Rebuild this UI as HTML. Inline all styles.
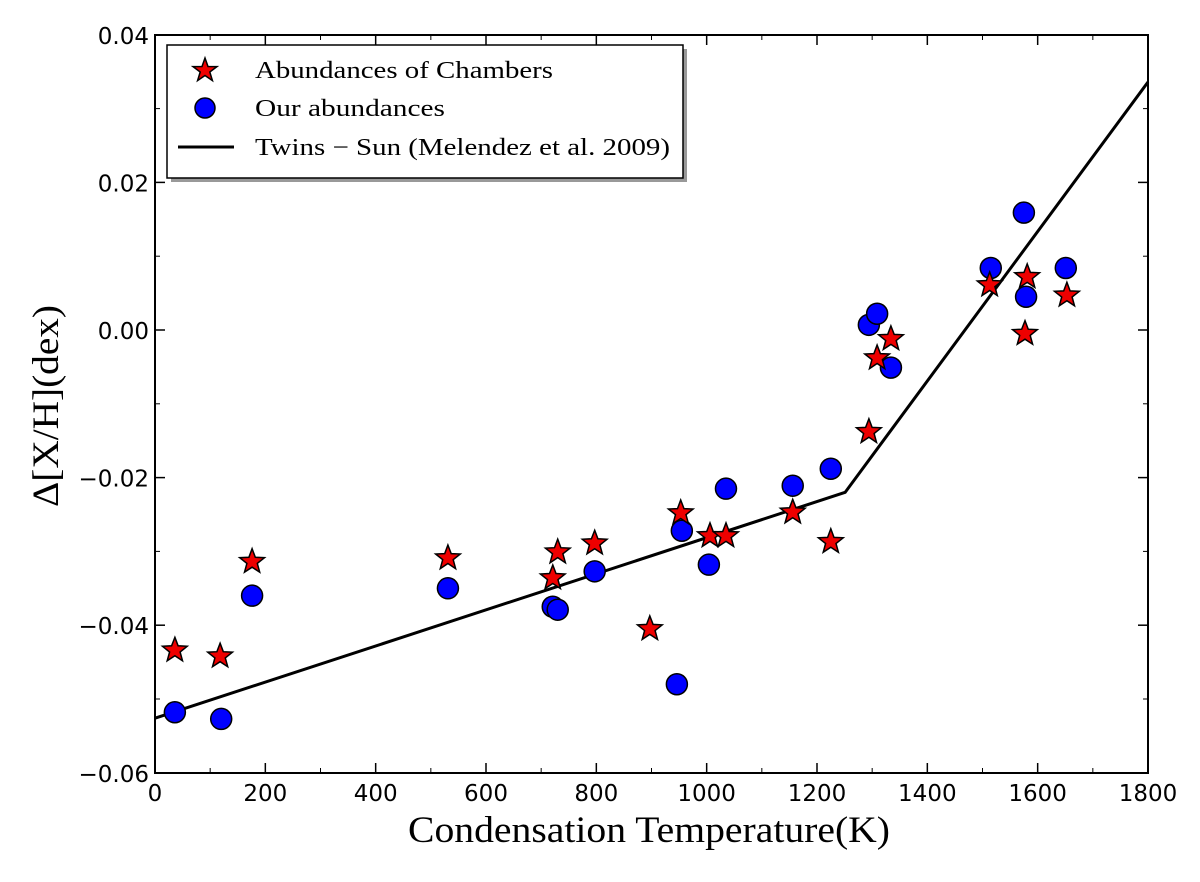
<!DOCTYPE html>
<html><head><meta charset="utf-8"><style>
body{margin:0;background:#fff;}
svg text{fill:#000;}
</style></head><body>
<svg id="chart" width="1200" height="877" xmlns="http://www.w3.org/2000/svg">
<g id="ticks"></g>
<g id="marks"></g>
<rect x="155" y="35" width="993" height="738" fill="none" stroke="#000" stroke-width="2"/>
<text x="408" y="842" font-family="Liberation Serif, serif" font-size="37" textLength="482" lengthAdjust="spacingAndGlyphs">Condensation Temperature(K)</text>
<text transform="translate(58,507) rotate(-90)" font-family="Liberation Serif, serif" font-size="37" textLength="202" lengthAdjust="spacingAndGlyphs">Δ[X/H](dex)</text>
<g>
<rect x="171" y="49" width="516" height="133" fill="#999"/>
<rect x="167" y="45" width="516" height="133" fill="#fff" stroke="#000" stroke-width="1.5"/>
<polygon points="205,58 208,66.5 217,66.6 209.8,72 212.4,80.6 205,75.5 197.6,80.6 200.2,72 193,66.6 202,66.5" fill="#e00" stroke="#000" stroke-width="1.5"/>
<text x="255" y="78" font-family="Liberation Serif, serif" font-size="24" textLength="298" lengthAdjust="spacingAndGlyphs">Abundances of Chambers</text>
<circle cx="205" cy="108" r="10" fill="#00f" stroke="#000" stroke-width="1.5"/>
<text x="255" y="116" font-family="Liberation Serif, serif" font-size="24" textLength="190" lengthAdjust="spacingAndGlyphs">Our abundances</text>
<line x1="178" y1="147" x2="234" y2="147" stroke="#000" stroke-width="3"/>
<text x="255" y="155" font-family="Liberation Serif, serif" font-size="24" textLength="415" lengthAdjust="spacingAndGlyphs">Twins − Sun (Melendez et al. 2009)</text>
</g>
</svg>
<script>
const starT=[36,118,176,531,721,730,797,897,953,1006,1035,1156,1225,1294,1309,1334,1513,1577,1581,1653];
const starV=[-0.0434,-0.0442,-0.0314,-0.0309,-0.0336,-0.0301,-0.0289,-0.0405,-0.0248,-0.0279,-0.0279,-0.0247,-0.0287,-0.0138,-0.0038,-0.0012,0.0061,-0.0005,0.0072,0.0047];
const circT=[36,120,176,531,721,730,797,946,955,1004,1035,1156,1225,1294,1309,1334,1515,1575,1579,1651];
const circV=[-0.0518,-0.0527,-0.0360,-0.0350,-0.0375,-0.0379,-0.0327,-0.0480,-0.0272,-0.0318,-0.0215,-0.0211,-0.0188,0.0007,0.0022,-0.0051,0.0084,0.0159,0.0045,0.0084];
const lineT=[0,1251,1800];
const lineV=[-0.0526,-0.0220,0.0336];
const xTicks=[0,200,400,600,800,1000,1200,1400,1600,1800];
const yTicks=[-0.06,-0.04,-0.02,0.00,0.02,0.04];
const yLabels=["−0.06","−0.04","−0.02","0.00","0.02","0.04"];
const NS='http://www.w3.org/2000/svg';
const X=t=>155+t*993/1800;
const Y=v=>330-v*7380;
const ticks=document.getElementById('ticks'),marks=document.getElementById('marks');
function mk(tag,p,parent){const e=document.createElementNS(NS,tag);for(const k in p)e.setAttribute(k,p[k]);parent.appendChild(e);return e;}
xTicks.forEach((t,i)=>{
 const x=X(t);
 const a=mk('line',{x1:x,y1:773,x2:x,y2:763,stroke:'#000','stroke-width':1.5},ticks);
 
 
 mk('line',{x1:x,y1:35,x2:x,y2:45,stroke:'#000','stroke-width':1.5},ticks);
 if(i<xTicks.length-1){const xm=X(t+100);
  mk('line',{x1:xm,y1:773,x2:xm,y2:768,stroke:'#000','stroke-width':1},ticks);
  mk('line',{x1:xm,y1:35,x2:xm,y2:40,stroke:'#000','stroke-width':1},ticks);}
 const tx=mk('text',{x:x,y:801,'font-family':'DejaVu Sans, sans-serif','font-size':23,'text-anchor':'middle'},ticks);
 tx.textContent=t;
 
 
});
yTicks.forEach((v,i)=>{
 const y=Y(v);
 mk('line',{x1:155,y1:y,x2:165,y2:y,stroke:'#000','stroke-width':1.5},ticks);
 mk('line',{x1:1148,y1:y,x2:1138,y2:y,stroke:'#000','stroke-width':1.5},ticks);
 if(i<yTicks.length-1){const ym=Y(v+0.01);
  mk('line',{x1:155,y1:ym,x2:160,y2:ym,stroke:'#000','stroke-width':1},ticks);
  mk('line',{x1:1148,y1:ym,x2:1143,y2:ym,stroke:'#000','stroke-width':1},ticks);}
 const tx=mk('text',{x:149,y:y+9,'font-family':'DejaVu Sans, sans-serif','font-size':23,'text-anchor':'end'},ticks);
 tx.textContent=yLabels[i];
 
 
});
const pl=mk('polyline',{points:lineT.map((t,i)=>X(t)+','+Y(lineV[i])).join(' '),fill:'none',stroke:'#000','stroke-width':3},marks);


circT.forEach((t,i)=>{
 const c=mk('circle',{cx:X(t),cy:Y(circV[i]),r:10.5,fill:'#00f',stroke:'#000','stroke-width':1.5},marks);
 
 
});
function starPts(cx,cy,R,r){let p=[];for(let k=0;k<10;k++){const a=-Math.PI/2+k*Math.PI/5;const rr=k%2?r:R;p.push((cx+rr*Math.cos(a)).toFixed(1)+','+(cy+rr*Math.sin(a)).toFixed(1));}return p.join(' ');}
starT.forEach((t,i)=>{
 const s=mk('polygon',{points:starPts(X(t),Y(starV[i]),13,5.5),fill:'#e00',stroke:'#000','stroke-width':1.5},marks);
 
 
});
</script>
</body></html>
